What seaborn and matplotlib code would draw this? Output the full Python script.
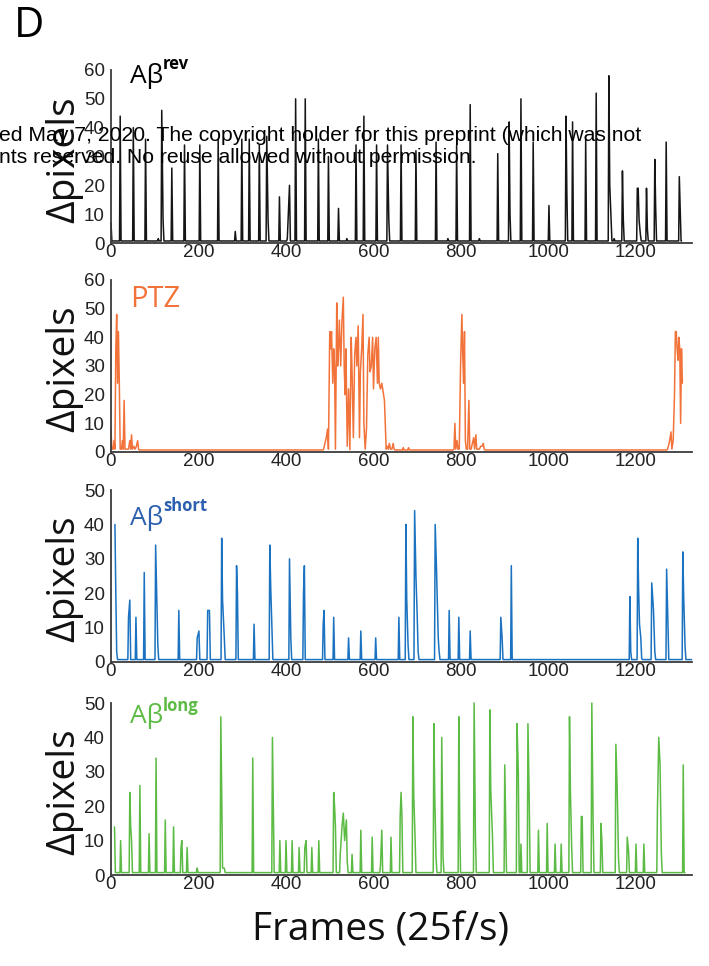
import numpy as np
import pandas as pd
import matplotlib
matplotlib.use("Agg")
import matplotlib.pyplot as plt
import seaborn as sns

# ---------------- data (frame, Δpixels) ----------------
rev_frames = [0, 21, 51, 79, 108, 116, 119, 139, 168, 203, 245, 284, 299, 316, 339, 356, 359,
              385, 403, 408, 422, 444, 474, 497, 520, 539, 560, 578, 607, 632, 635, 663, 697,
              743, 770, 790, 821, 842, 884, 910, 912, 937, 965, 1001, 1040, 1042, 1055, 1085,
              1109, 1138, 1140, 1143, 1150, 1169, 1171, 1203, 1205, 1207, 1210, 1224, 1226,
              1243, 1245, 1269, 1299, 1301]
rev_values = [7, 44, 40, 36, 1.5, 46, 8, 26, 34, 34, 36, 4, 36, 36, 34, 37, 8,
              16, 1.5, 20, 50, 50, 36, 30, 12, 1.5, 34, 44, 34, 34, 8, 34, 32,
              35, 1.5, 34, 48, 1.5, 31, 42, 10, 50, 35, 13, 44, 17, 42, 36,
              52, 58, 20, 8, 1.5, 25, 8, 19, 19, 8, 3, 19, 5,
              29, 12, 35, 23, 12]

ptz_frames = [0, 2, 5, 7, 9, 11, 13, 15, 17, 19, 21, 24, 26, 28, 30, 32, 36, 40, 43, 45, 47, 49,
              52, 55, 58, 61, 63,
              486, 489, 492, 495, 497, 500, 502, 504, 507, 509, 511, 513, 516, 518, 520, 522,
              525, 528, 531, 533, 535, 537, 540, 543, 546, 549, 551, 554, 557, 560, 562, 565,
              568, 570, 573, 576, 578, 581, 584, 587, 590, 592, 595, 598, 600, 603, 606, 609,
              611, 613, 616, 619, 622, 625, 627, 629, 631, 634, 636, 639, 642, 645, 647,
              668, 680,
              784, 786, 788, 791, 793, 796, 799, 802, 804, 806, 808, 810, 812, 815, 818, 820,
              823, 826, 829, 831, 834, 836, 839, 842, 845, 848, 851, 853,
              1272, 1274, 1277, 1280, 1282, 1285, 1288, 1290, 1292, 1294, 1296, 1298, 1300,
              1302, 1304, 1306]
ptz_values = [8, 1, 1, 4, 1, 36, 48, 24, 42, 24, 1, 1, 4, 1, 18, 1, 1, 1, 4, 1, 6, 1,
              2, 1, 2, 4, 1,
              1, 3, 5, 8, 1, 42, 36, 42, 24, 36, 30, 1, 52, 30, 36, 46,
              30, 46, 54, 30, 20, 36, 2, 22, 0.8, 40, 28, 5, 34, 40, 30, 44,
              5, 28, 36, 48, 10, 1, 8, 34, 40, 28, 30, 40, 22, 36, 40, 24,
              40, 24, 22, 24, 21, 18, 10, 1, 2, 1, 3, 1, 1, 3, 1,
              1.5, 1.5,
              1, 10, 1, 4, 1, 1, 30, 48, 34, 24, 42, 4, 1, 1, 18, 1,
              1, 3, 5, 1, 6, 1, 1, 1, 2, 2, 3, 1,
              1, 2, 4, 7, 1, 4, 20, 42, 42, 36, 32, 40, 36,
              10, 36, 24]

short_frames = [9, 11, 13, 40, 43, 57, 76, 102, 104, 107, 155, 197, 201, 221, 225, 253, 255, 259,
                287, 289, 327, 363, 365, 368, 408, 411, 440, 442, 485, 487, 509, 543, 571, 605,
                658, 674, 676, 679, 694, 697, 700, 702, 741, 744, 748, 750, 773, 795, 821, 891,
                894, 915, 1186, 1188, 1204, 1206, 1208, 1211, 1213, 1236, 1240, 1243, 1270, 1273,
                1307, 1309, 1312]
short_values = [40, 20, 3, 13, 18, 13, 26, 34, 22, 5, 15, 7, 9, 15, 15, 36, 18, 7,
                28, 20, 11, 34, 22, 9, 30, 7, 20, 28, 11, 15, 13, 7, 9, 7,
                13, 40, 18, 5, 44, 25, 13, 3, 40, 27, 7, 3, 15, 13, 9, 13,
                7, 28, 19, 3, 36, 21, 11, 7, 1, 23, 15, 3, 27, 11,
                32, 19, 5]

long_frames = [8, 22, 43, 45, 47, 66, 87, 103, 124, 143, 160, 162, 174, 197, 251, 255, 259, 324,
               369, 371, 386, 400, 414, 430, 443, 446, 459, 475, 509, 511, 513, 524, 528, 531,
               534, 538, 540, 551, 571, 597, 616, 619, 640, 661, 663, 665, 690, 692, 695, 738,
               740, 743, 756, 759, 795, 797, 830, 833, 866, 868, 872, 900, 902, 928, 931, 937,
               953, 956, 977, 997, 1015, 1029, 1048, 1050, 1053, 1075, 1077, 1099, 1102, 1120,
               1122, 1154, 1157, 1160, 1180, 1183, 1200, 1218, 1249, 1252, 1255, 1258, 1308]
long_values = [14, 10, 24, 14, 10, 26, 12, 34, 16, 14, 8, 10, 8, 2, 46, 2, 2, 34,
               40, 20, 10, 10, 10, 8, 8, 10, 8, 10, 24, 20, 14, 6, 14, 18,
               10, 16, 4, 6, 13, 11, 3, 13, 11, 17, 24, 17, 46, 23, 11, 44,
               23, 5, 40, 5, 46, 16, 50, 11, 48, 25, 11, 32, 17, 44, 30, 9,
               44, 21, 13, 15, 9, 9, 46, 25, 8, 17, 17, 50, 15, 15,
               10, 38, 25, 5, 11, 7, 9, 9, 19, 40, 32, 6, 32]

panel_titles = ["Aβ", "PTZ", "Aβ", "Aβ"]
panel_sups = ["rev", "", "short", "long"]
x_ticks = [0, 200, 400, 600, 800, 1000, 1200]
y_ticks_60 = [0, 10, 20, 30, 40, 50, 60]
y_ticks_50 = [0, 10, 20, 30, 40, 50]


def build_trace(frames, values, base=0.7, rise=1.5, fall=2.0, gap=5, end=None):
    """Connect the read spike vertices, resting on the baseline between events."""
    xs, ys = [], []
    n = len(frames)
    for i, (f, v) in enumerate(zip(frames, values)):
        if i > 0 and f - frames[i - 1] > gap:
            xs.append(f - rise); ys.append(base)
        xs.append(f); ys.append(v)
        if i < n - 1 and frames[i + 1] - f > gap:
            xs.append(f + fall); ys.append(base)
    if end is not None and end > frames[-1]:
        xs.append(frames[-1] + fall); ys.append(base)
        xs.append(end); ys.append(base)
    return pd.DataFrame({"frame": xs, "value": ys})


# ---------------- figure ----------------
sns.set_style("white")
plt.rcParams["font.family"] = ["Liberation Sans", "DejaVu Sans"]

W, H = 709, 966
fig = plt.figure(figsize=(W / 100, H / 100), dpi=100)


def fx(x):
    return x / W


def fy(y):
    return 1 - y / H


panels = [
    dict(fr=rev_frames, va=rev_values, color="#151515", tcolor="#000000", top=70, bot=243,
         ymax=60, yt=y_ticks_60, end=1304),
    dict(fr=ptz_frames, va=ptz_values, color="#f2733a", tcolor="#f2733a", top=280, bot=452,
         ymax=60, yt=y_ticks_60, end=None),
    dict(fr=short_frames, va=short_values, color="#1a72c0", tcolor="#2c5fae", top=490, bot=662,
         ymax=50, yt=y_ticks_50, end=1327),
    dict(fr=long_frames, va=long_values, color="#5cbb44", tcolor="#5cbb44", top=703, bot=875,
         ymax=50, yt=y_ticks_50, end=1312),
]

L, R = 111, 692
spine_c = "#3c3c3c"
tick_font = dict(family=["Liberation Sans", "DejaVu Sans"], size=13.5)
for i, p in enumerate(panels):
    ax = fig.add_axes([fx(L), fy(p["bot"]), (R - L) / W, (p["bot"] - p["top"]) / H])
    df = build_trace(p["fr"], p["va"], end=p["end"])
    sns.lineplot(data=df, x="frame", y="value", ax=ax, color=p["color"], linewidth=1.1,
                 estimator=None, sort=False, legend=False)
    for ln in ax.lines:
        ln.set_clip_on(False)
    ax.set_xlim(0, 1328)
    ax.set_ylim(0, p["ymax"])
    ax.set_xticks(x_ticks)
    ax.set_yticks(p["yt"])
    ax.set_xticklabels([str(t) for t in x_ticks], fontdict=tick_font, color="#222222")
    ax.set_yticklabels([str(t) for t in p["yt"]], fontdict=tick_font, color="#222222")
    ax.set_xlabel("")
    ax.set_ylabel("")
    for s in ["top", "right"]:
        ax.spines[s].set_visible(False)
    for s in ["left", "bottom"]:
        ax.spines[s].set_color(spine_c)
        ax.spines[s].set_linewidth(1.3)
    ax.tick_params(axis="x", direction="in", length=4, width=1.1, color=spine_c, pad=1)
    ax.tick_params(axis="y", direction="out", length=4, width=1.1, color=spine_c, pad=0.5)
    ax.patch.set_alpha(0)

    # y label
    fig.text(fx(64), fy((p["top"] + p["bot"]) / 2 + 3), "Δpixels", rotation=90,
             ha="center", va="center", fontsize=28, family=["Open Sans", "DejaVu Sans"],
             color="#111111")

# panel titles
title_base = [83, 307, 525, 723]
sup_base = [69, 0, 511, 711]
title_sizes = [19, 21, 19, 19]
for i, p in enumerate(panels):
    fig.text(fx(130), fy(title_base[i]), panel_titles[i], ha="left", va="baseline",
             fontsize=title_sizes[i], family=["Open Sans", "DejaVu Sans"], color=p["tcolor"])
    if panel_sups[i]:
        fig.text(fx(163), fy(sup_base[i]), panel_sups[i], ha="left", va="baseline",
                 fontsize=12, fontweight="bold", family=["Open Sans", "DejaVu Sans"],
                 color=p["tcolor"])

# x label and panel letter
fig.text(fx(381), fy(931), "Frames (25f/s)", ha="center", va="center", fontsize=28,
         family=["Open Sans", "DejaVu Sans"], color="#111111")
fig.text(fx(14), fy(37), "D", ha="left", va="baseline", fontsize=30,
         family=["Open Sans", "DejaVu Sans"], color="#000000")

# preprint watermark overlay
fig.text(fx(-1), fy(141), "ed May 7, 2020. The copyright holder for this preprint (which was not",
         ha="left", va="baseline", fontsize=15.2, family=["Liberation Sans", "DejaVu Sans"],
         color="#000000", zorder=10)
fig.text(fx(-1), fy(163), "nts reserved. No reuse allowed without permission.",
         ha="left", va="baseline", fontsize=15.2, family=["Liberation Sans", "DejaVu Sans"],
         color="#000000", zorder=10)

fig.savefig("out.png", dpi=100)
